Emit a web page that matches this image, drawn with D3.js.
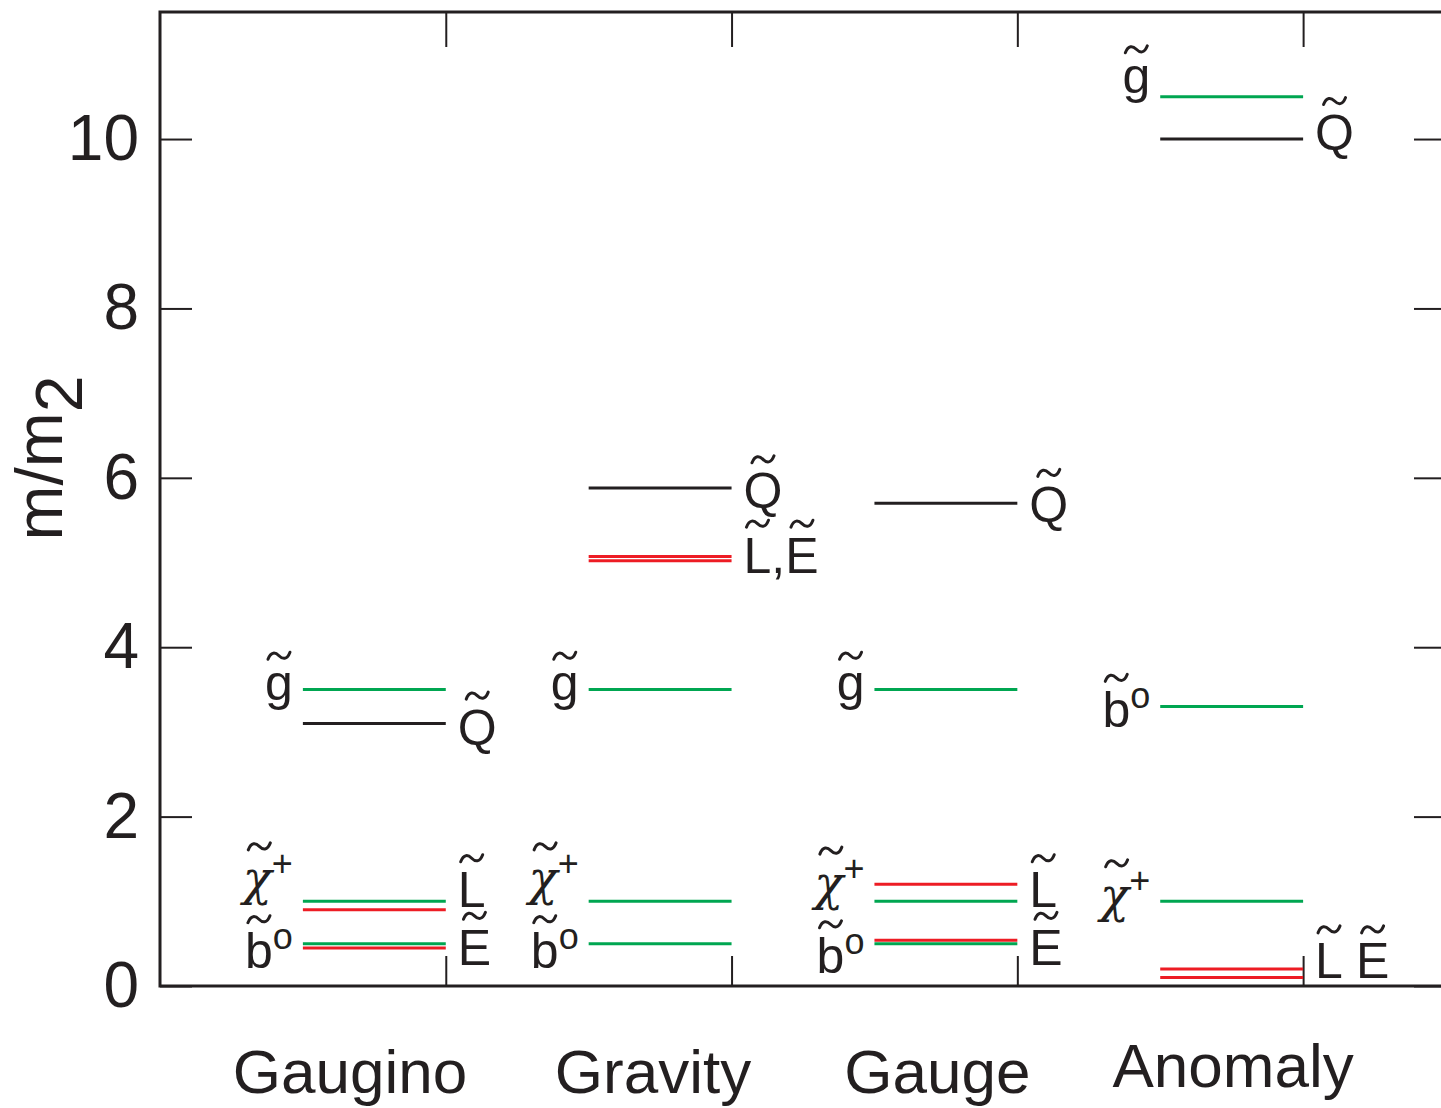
<!DOCTYPE html>
<html>
<head>
<meta charset="utf-8">
<script src="https://cdn.jsdelivr.net/npm/d3@7"></script>
<style>
body { margin: 0; background: #fff; }
svg { display: block; }
text { font-family: "Liberation Sans", Arial, Helvetica, sans-serif; fill: #231f20; }
</style>
</head>
<body>
<svg width="1441" height="1108"></svg>
<script>
// categories and axis ticks
var categories = ["Gaugino", "Gravity", "Gauge", "Anomaly"];
var yTicks = [0, 2, 4, 6, 8, 10];
var xTicks = [1, 2, 3, 4];

// mass levels (m/m2) per category
var levelCat   = [0, 0, 0, 0, 0, 0,   1, 1, 1, 1, 1, 1,   2, 2, 2, 2, 2, 2,   3, 3, 3, 3, 3, 3];
var levelValue = [3.5, 3.1, 1.0, 0.9, 0.5, 0.45,
                  5.88, 5.07, 5.02, 3.5, 1.0, 0.5,
                  5.7, 3.5, 1.2, 1.0, 0.54, 0.5,
                  10.5, 10.0, 3.3, 1.0, 0.2, 0.1];
var levelType  = ["gaugino", "squark", "gaugino", "slepton", "gaugino", "slepton",
                  "squark", "slepton", "slepton", "gaugino", "gaugino", "gaugino",
                  "squark", "gaugino", "slepton", "gaugino", "slepton", "gaugino",
                  "gaugino", "squark", "gaugino", "gaugino", "slepton", "slepton"];

// particle labels: "~" = tilde over next char, "^" = next char superscript
var labelCat   = [0, 0, 0, 0, 0, 0,   1, 1, 1, 1, 1,   2, 2, 2, 2, 2, 2,   3, 3, 3, 3, 3];
var labelSide  = ["L", "R", "L", "R", "L", "R",
                  "R", "R", "L", "L", "L",
                  "R", "L", "L", "R", "L", "R",
                  "L", "R", "L", "L", "R"];
var labelText  = ["~g", "~Q", "~χ^+", "~L", "~b^o", "~E",
                  "~Q", "~L,~E", "~g", "~χ^+", "~b^o",
                  "~Q", "~g", "~χ^+", "~L", "~b^o", "~E",
                  "~g", "~Q", "~b^o", "~χ^+", "~L ~E"];
var labelValue = [3.38, 2.85, 1.07, 0.93, 0.21, 0.25,
                  5.64, 4.88, 3.38, 1.07, 0.21,
                  5.48, 3.38, 1.02, 0.93, 0.15, 0.25,
                  10.54, 9.87, 3.06, 0.87, 0.09];

var colors = { gaugino: "#00a651", squark: "#231f20", slepton: "#ed1c24" };

var svg = d3.select("svg");
var plotL = 160, plotR = 1446, plotT = 12, plotB = 986;

var x = d3.scaleLinear().domain([0, 4.5]).range([plotL, plotR]);
var y = d3.scaleLinear().domain([0, 11.5]).range([plotB, plotT]);

// axes (ticks point inward)
var gl = svg.append("g").attr("transform", "translate(" + plotL + ",0)")
  .call(d3.axisLeft(y).tickValues(yTicks).tickSize(-32).tickPadding(21).tickFormat(d3.format("d")));
gl.selectAll("text").attr("font-size", 64).attr("font-family", null).attr("fill", null);
gl.attr("font-family", null).attr("font-size", null);

svg.append("g").attr("transform", "translate(" + plotR + ",0)")
  .call(d3.axisRight(y).tickValues(yTicks).tickSize(-32).tickFormat(""));
svg.append("g").attr("transform", "translate(0," + plotT + ")")
  .call(d3.axisTop(x).tickValues(xTicks).tickSize(-35).tickFormat(""));
svg.append("g").attr("transform", "translate(0," + plotB + ")")
  .call(d3.axisBottom(x).tickValues(xTicks).tickSize(-30).tickFormat(""));

svg.selectAll(".domain").remove();
svg.selectAll(".tick line").attr("stroke", "#231f20").attr("stroke-width", 2);

svg.append("rect")
  .attr("x", plotL).attr("y", plotT)
  .attr("width", plotR - plotL).attr("height", plotB - plotT)
  .attr("fill", "none").attr("stroke", "#231f20").attr("stroke-width", 3);

// level lines
var levels = levelValue.map(function (v, i) { return { c: levelCat[i], v: v, t: levelType[i] }; });
svg.append("g").selectAll("line")
  .data(levels)
  .enter().append("line")
  .attr("x1", function (d) { return x(d.c + 0.5); })
  .attr("x2", function (d) { return x(d.c + 1); })
  .attr("y1", function (d) { return y(d.v); })
  .attr("y2", function (d) { return y(d.v); })
  .attr("stroke", function (d) { return colors[d.t]; })
  .attr("stroke-width", 3);

// particle labels
function parse(s) {
  var out = [], tilde = false, sup = false;
  for (var ch of s) {
    if (ch === "~") { tilde = true; continue; }
    if (ch === "^") { sup = true; continue; }
    out.push({ ch: ch, tilde: tilde, sup: sup });
    tilde = false; sup = false;
  }
  return out;
}

var lg = svg.append("g");
labelText.forEach(function (s, i) {
  var grp = lg.append("g");
  var cx = 0;
  parse(s).forEach(function (p) {
    var fs = p.sup ? 36 : 50;
    if (p.ch === " ") { cx += 13; return; }
    var t = grp.append("text")
      .attr("x", cx).attr("y", p.sup ? -19 : 0)
      .attr("font-size", fs).text(p.ch);
    if (p.ch === "χ") {
      t.style("font-family", "'DejaVu Serif', serif").style("font-style", "italic").attr("font-size", 48);
    }
    var w = t.node().getComputedTextLength();
    if (p.tilde) {
      var ty = p.ch === "g" ? -44 : -49;
      var mx = cx + w / 2 + (p.ch === "χ" ? 2 : 0);
      grp.append("path")
        .attr("transform", "translate(" + mx + "," + ty + ")")
        .attr("d", "M-11,3.5 C-8,-4.5 -3.5,-3.5 0,0 S8,4.5 11,-3.5")
        .attr("fill", "none").attr("stroke", "#231f20")
        .attr("stroke-width", 3).attr("stroke-linecap", "round");
    }
    cx += w;
  });
  var c = labelCat[i];
  var tx = labelSide[i] === "L" ? x(c + 0.5) - 10 - cx : x(c + 1) + 12;
  grp.attr("transform", "translate(" + tx + "," + y(labelValue[i]) + ")");
});

// category names
var catPos = [0.665, 1.725, 2.72, 3.755];
var catBase = [1093, 1093, 1093, 1087];
svg.append("g").selectAll("text")
  .data(categories)
  .enter().append("text")
  .attr("x", function (d, i) { return x(catPos[i]); })
  .attr("y", function (d, i) { return catBase[i]; })
  .attr("text-anchor", "middle")
  .attr("font-size", 62)
  .text(function (d) { return d; });

// y axis title
var yl = svg.append("text")
  .attr("transform", "translate(62,458) rotate(-90)")
  .attr("text-anchor", "middle")
  .attr("font-size", 66);
yl.append("tspan").text("m/m");
yl.append("tspan").attr("dy", 20).text("2");
</script>
</body>
</html>
